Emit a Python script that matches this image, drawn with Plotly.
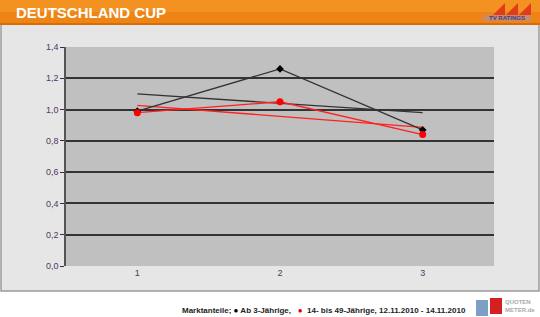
import plotly.graph_objects as go
import numpy as np

# ---- data ----
x_days = [1, 2, 3]
ab3 = [0.99, 1.26, 0.87]
young = [0.98, 1.05, 0.84]
y_ticks = [0.0, 0.2, 0.4, 0.6, 0.8, 1.0, 1.2, 1.4]
title = "DEUTSCHLAND CUP"
footer = "Marktanteile; <span style='color:#000'>●</span> Ab 3-Jährige,   <span style='color:#e00000'>●</span>  14- bis 49-Jährige, 12.11.2010 - 14.11.2010"

W, H = 540, 317
L, R, T, B = 66, 494, 47, 266

def px(x):
    return (x - L) / (R - L)

def py(y):
    return (B - y) / (B - T)

fig = go.Figure()

# trendlines (linear fits)
for vals, col in [(ab3, "#333333"), (young, "#ff2020")]:
    k, d = np.polyfit(x_days, vals, 1)
    fig.add_trace(go.Scatter(x=[x_days[0], x_days[-1]],
                             y=[k * x_days[0] + d, k * x_days[-1] + d],
                             mode="lines", line=dict(color=col, width=1.3),
                             hoverinfo="skip", showlegend=False))

fig.add_trace(go.Scatter(x=x_days, y=ab3, mode="lines+markers",
                         line=dict(color="#333333", width=1.3),
                         marker=dict(color="#000000", size=6, symbol="diamond"),
                         showlegend=False))
fig.add_trace(go.Scatter(x=x_days, y=young, mode="lines+markers",
                         line=dict(color="#ff2020", width=1.3),
                         marker=dict(color="#ff0000", size=7, symbol="circle"),
                         showlegend=False))

shapes = []
# outer panel
shapes.append(dict(type="rect", xref="paper", yref="paper", layer="below",
                   x0=px(1), x1=px(539), y0=py(291), y1=py(24),
                   fillcolor="#e6e6e6", line=dict(color="#9a9a9a", width=1.5)))
# plot area background
shapes.append(dict(type="rect", xref="paper", yref="paper", layer="below",
                   x0=0, x1=1, y0=0, y1=1,
                   fillcolor="#c0c0c0", line=dict(width=0)))
# footer white
shapes.append(dict(type="rect", xref="paper", yref="paper", layer="below",
                   x0=px(0), x1=px(540), y0=py(317), y1=py(292),
                   fillcolor="#ffffff", line=dict(width=0)))
# header orange (two-tone for gradient feel)
shapes.append(dict(type="rect", xref="paper", yref="paper", layer="below",
                   x0=px(0), x1=px(540), y0=py(24), y1=py(0),
                   fillcolor="#ee8414", line=dict(width=0)))
shapes.append(dict(type="rect", xref="paper", yref="paper", layer="below",
                   x0=px(0), x1=px(540), y0=py(12), y1=py(0),
                   fillcolor="#f39220", line=dict(width=0)))
shapes.append(dict(type="rect", xref="paper", yref="paper", layer="below",
                   x0=px(0), x1=px(540), y0=py(25), y1=py(23),
                   fillcolor="#d86c0a", line=dict(width=0)))
# TV ratings logo triangles
for i in range(3):
    x0 = 493 + i * 13
    shapes.append(dict(type="path", xref="paper", yref="paper",
                       path=f"M {px(x0)} {py(15)} L {px(x0+12)} {py(15)} L {px(x0+12)} {py(3)} Z",
                       fillcolor="#e23a1a", line=dict(width=0)))
shapes.append(dict(type="rect", xref="paper", yref="paper",
                   x0=px(483), x1=px(531), y0=py(21), y1=py(15),
                   fillcolor="#c88a6a", line=dict(width=0)))
# Quotenmeter logo blocks
shapes.append(dict(type="rect", xref="paper", yref="paper",
                   x0=px(476), x1=px(488), y0=py(316), y1=py(300),
                   fillcolor="#7d9fc4", line=dict(width=0)))
shapes.append(dict(type="rect", xref="paper", yref="paper",
                   x0=px(490), x1=px(502), y0=py(314), y1=py(298),
                   fillcolor="#d42020", line=dict(width=0)))

annotations = [
    dict(text=f"<b>{title}</b>", xref="paper", yref="paper", x=px(14), y=py(13),
         xanchor="left", yanchor="middle", showarrow=False,
         font=dict(family="Arial, Liberation Sans", size=15, color="#ffffff")),
    dict(text="<b>TV RATINGS</b>", xref="paper", yref="paper", x=px(507), y=py(18),
         xanchor="center", yanchor="middle", showarrow=False,
         font=dict(family="Arial, Liberation Sans", size=6, color="#404090")),
    dict(text=f"<b>{footer}</b>", xref="paper", yref="paper", x=px(468), y=py(310),
         xanchor="right", yanchor="middle", showarrow=False,
         font=dict(family="Arial, Liberation Sans", size=8, color="#222222")),
    dict(text="<b>QUOTEN<br>METER.de</b>", xref="paper", yref="paper", x=px(503), y=py(306),
         xanchor="left", yanchor="middle", showarrow=False, align="left",
         font=dict(family="Arial, Liberation Sans", size=6, color="#aaaaaa")),
]

fig.update_layout(
    width=W, height=H,
    margin=dict(l=L, r=W - R, t=T, b=H - B),
    paper_bgcolor="#ffffff",
    plot_bgcolor="#c0c0c0",
    separators=",.",
    shapes=shapes,
    annotations=annotations,
    xaxis=dict(range=[0.5, 3.5], tickvals=x_days, ticktext=[str(v) for v in x_days],
               showgrid=False, zeroline=False, showline=False, ticks="",
               tickfont=dict(family="Arial, Liberation Sans", size=9, color="#553366")),
    yaxis=dict(range=[0, 1.4], tickvals=y_ticks, tickformat=".1f",
               showgrid=True, gridcolor="#333333", gridwidth=1.5,
               zeroline=False, showline=True, linecolor="#555555", linewidth=1.5,
               ticks="outside", ticklen=4, tickcolor="#333333",
               tickfont=dict(family="Arial, Liberation Sans", size=9, color="#553366")),
)

fig.write_html("out.html")
